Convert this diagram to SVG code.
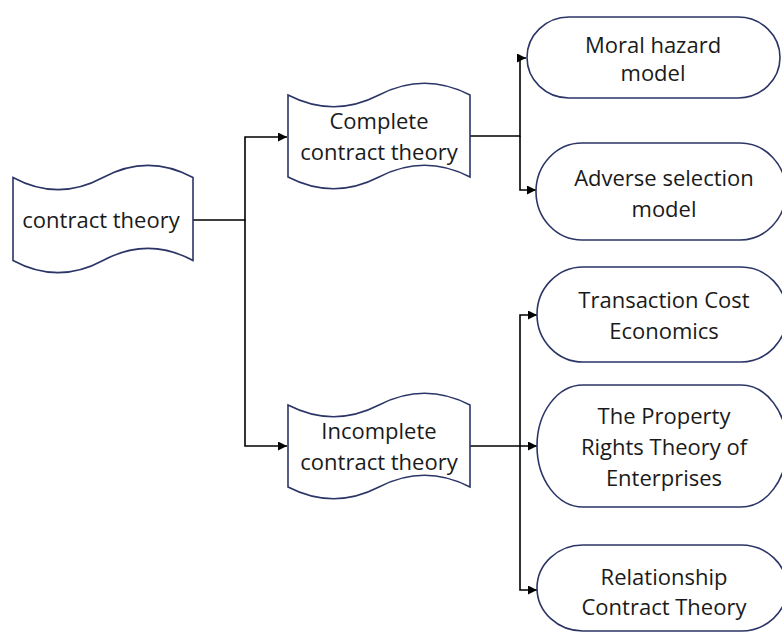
<svg xmlns="http://www.w3.org/2000/svg" width="782" height="633" viewBox="0 0 782 633">
<defs>
<marker id="arr" viewBox="0 0 10 10" refX="10" refY="5" markerWidth="9" markerHeight="9" markerUnits="userSpaceOnUse" orient="auto">
<path d="M0,0 L10,5 L0,10 Z" fill="#000"/>
</marker>
<style>
.node{fill:#fff;stroke:#2b3566;stroke-width:1.6}
.t{font-family:"Open Sans","Noto Sans",sans-serif;font-size:22px;fill:#1a1a1a;text-anchor:middle}
.c{fill:none;stroke:#000;stroke-width:1.6}
</style>
</defs>
<rect width="782" height="633" fill="#fff"/>
<g id="connectors">
<path class="c" d="M193,220 H245 V137 H287" marker-end="url(#arr)"/>
<path class="c" d="M245,220 V446 H287" marker-end="url(#arr)"/>
<path class="c" d="M470,136 H520 V58 H526" marker-end="url(#arr)"/>
<path class="c" d="M520,136 V190 H536" marker-end="url(#arr)"/>
<path class="c" d="M470,446 H537" marker-end="url(#arr)"/>
<path class="c" d="M520,446 V315 H537" marker-end="url(#arr)"/>
<path class="c" d="M520,446 V590 H537" marker-end="url(#arr)"/>
</g>
<g id="root">
<path class="node" d="M13,177.5 Q58,201.8 103,177.5 Q148,153.2 193,177.5 L193,260.5 Q148,236.2 103,260.5 Q58,284.8 13,260.5 Z"/>
<text class="t" x="101" y="228">contract theory</text>
</g>
<g id="complete">
<path class="node" d="M288,95 Q333.5,118.4 379,95 Q424.5,71.6 470,95 L470,177 Q424.5,153.6 379,177 Q333.5,200.4 288,177 Z"/>
<text class="t" x="379" y="129">Complete</text>
<text class="t" x="379" y="160">contract theory</text>
</g>
<g id="incomplete">
<path class="node" d="M288,405 Q333.5,428.4 379,405 Q424.5,381.6 470,405 L470,487 Q424.5,463.6 379,487 Q333.5,510.4 288,487 Z"/>
<text class="t" x="379" y="439">Incomplete</text>
<text class="t" x="379" y="470">contract theory</text>
</g>
<g id="moral">
<rect class="node" x="527" y="17" width="253" height="81" rx="42" ry="40.5"/>
<text class="t" x="653" y="53">Moral hazard</text>
<text class="t" x="653" y="81">model</text>
</g>
<g id="adverse">
<rect class="node" x="536" y="143" width="250" height="97" rx="46" ry="48.5"/>
<text class="t" x="664" y="186">Adverse selection</text>
<text class="t" x="664" y="217">model</text>
</g>
<g id="transaction">
<rect class="node" x="537" y="267" width="250" height="95" rx="46" ry="47.5"/>
<text class="t" x="664" y="308">Transaction Cost</text>
<text class="t" x="664" y="339">Economics</text>
</g>
<g id="property">
<rect class="node" x="537" y="385" width="250" height="122" rx="46" ry="61"/>
<text class="t" x="664" y="424">The Property</text>
<text class="t" x="664" y="455">Rights Theory of</text>
<text class="t" x="664" y="486">Enterprises</text>
</g>
<g id="relationship">
<rect class="node" x="537" y="545" width="250" height="86" rx="46" ry="43"/>
<text class="t" x="664" y="585">Relationship</text>
<text class="t" x="664" y="615">Contract Theory</text>
</g>
</svg>
